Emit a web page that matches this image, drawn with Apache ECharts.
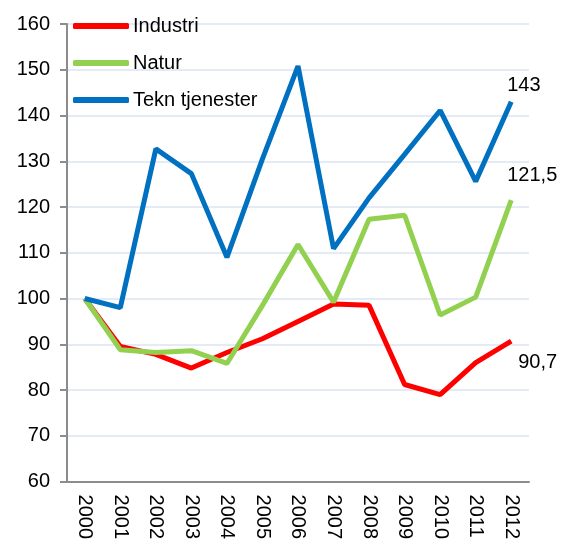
<!DOCTYPE html>
<html>
<head>
<meta charset="utf-8">
<script src="https://cdn.jsdelivr.net/npm/echarts@6/dist/echarts.min.js"></script>
<style>
  html, body { margin: 0; padding: 0; background: #fff; }
  #chart { width: 561px; height: 542px; }
</style>
</head>
<body>
<div id="chart"></div>
<script>
const years = ['2000', '2001', '2002', '2003', '2004', '2005', '2006', '2007', '2008', '2009', '2010', '2011', '2012']
const industri = [100, 89.5, 87.8, 84.8, 88.2, 91.2, 95, 98.8, 98.5, 81.2, 79, 86, 90.7]
const natur = [100, 88.8, 88.2, 88.6, 85.8, 98.5, 111.8, 99.2, 117.3, 118.2, 96.4, 100.3, 121.5]
const tekn = [100, 98, 132.7, 127.3, 109, 130.5, 150.8, 110.9, 122, 131.5, 141.1, 125.6, 143]

const font = 'Liberation Sans, Arial, sans-serif'

// value label at the end of the line, comma as decimal sign
function endLabel(offset) {
  return {
    show: true,
    distance: 0,
    offset: offset,
    fontFamily: font,
    fontSize: 20,
    color: '#000',
    formatter: p => String(p.value).replace('.', ',')
  }
}

const chart = echarts.init(document.getElementById('chart'))
chart.setOption({
  animation: false,
  grid: { left: 67, right: 32, top: 24, bottom: 60 },
  legend: {
    orient: 'vertical',
    left: 68,
    top: 11,
    itemWidth: 56,
    itemHeight: 6,
    itemGap: 17,
    icon: 'roundRect',
    textStyle: { fontFamily: font, fontSize: 20, color: '#000', padding: [0, 0, 0, -1] },
    data: ['Industri', 'Natur', 'Tekn tjenester']
  },
  xAxis: {
    type: 'category',
    data: years,
    boundaryGap: true,
    axisLine: { lineStyle: { color: '#8c8c8c', width: 2 } },
    axisTick: { show: false },
    axisLabel: { rotate: -90, fontFamily: font, fontSize: 20, color: '#000', margin: 13, interval: 0 }
  },
  yAxis: {
    type: 'value',
    min: 60,
    max: 160,
    interval: 10,
    axisLine: { show: true, lineStyle: { color: '#8c8c8c', width: 2 } },
    axisTick: { show: true, length: 7, lineStyle: { color: '#8c8c8c', width: 2 } },
    axisLabel: { fontFamily: font, fontSize: 20, color: '#000', margin: 17 },
    splitLine: { lineStyle: { color: '#dde4f0', width: 1.5 } }
  },
  series: [
    {
      name: 'Industri', type: 'line', data: industri, symbol: 'none',
      lineStyle: { width: 5, color: '#ff0000' }, itemStyle: { color: '#ff0000' },
      endLabel: endLabel([7, 21])
    },
    {
      name: 'Natur', type: 'line', data: natur, symbol: 'none',
      lineStyle: { width: 5, color: '#92d050' }, itemStyle: { color: '#92d050' },
      endLabel: endLabel([-4, -25])
    },
    {
      name: 'Tekn tjenester', type: 'line', data: tekn, symbol: 'none',
      lineStyle: { width: 5, color: '#0070c0' }, itemStyle: { color: '#0070c0' },
      endLabel: endLabel([-4, -16])
    }
  ]
})
</script>
</body>
</html>
